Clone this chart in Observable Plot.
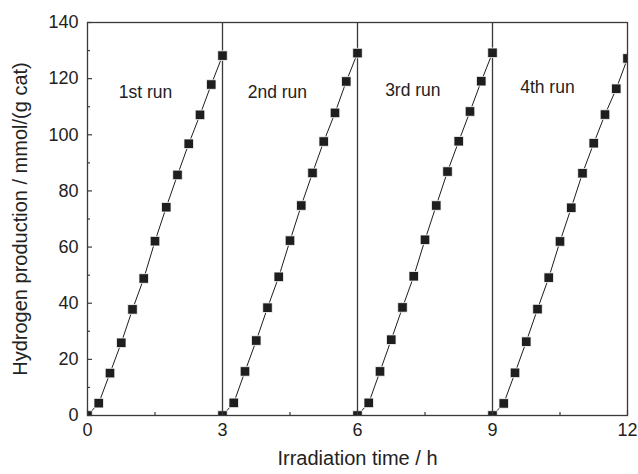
<!DOCTYPE html>
<html>
<head>
<meta charset="utf-8">
<script src="https://cdn.jsdelivr.net/npm/d3@7"></script>
<script src="https://cdn.jsdelivr.net/npm/@observablehq/plot@0.6"></script>
<style>
  html, body { margin: 0; padding: 0; background: #fff; }
  #chart { width: 638px; height: 474px; }
</style>
</head>
<body>
<div id="chart"></div>
<script>
// ---- data ----
const runStarts = [0, 3, 6, 9];
const elapsed = [0, 0.25, 0.5, 0.75, 1, 1.25, 1.5, 1.75, 2, 2.25, 2.5, 2.75, 3];
const run1 = [0, 4.4, 15.1, 25.9, 37.8, 48.8, 62.1, 74.2, 85.7, 96.8, 107.1, 117.9, 128.2];
const run2 = [0, 4.5, 15.7, 26.7, 38.4, 49.4, 62.3, 74.8, 86.4, 97.6, 107.8, 119.0, 129.1];
const run3 = [0, 4.5, 15.7, 27.0, 38.5, 49.6, 62.6, 74.8, 86.9, 97.7, 108.3, 119.1, 129.2];
const run4 = [0, 4.3, 15.2, 26.3, 37.9, 49.1, 62.0, 74.0, 86.3, 97.0, 107.2, 116.4, 127.2];
const runLabels = ["1st run", "2nd run", "3rd run", "4th run"];
const runLabelX = [1.29, 4.22, 7.23, 10.22];
const runLabelY = [115, 115, 115.8, 117];
const dividers = [3, 6, 9];
const xMajor = [0, 3, 6, 9, 12];
const xMinor = [1.5, 4.5, 7.5, 10.5];
const yMajor = [0, 20, 40, 60, 80, 100, 120, 140];
const yMinor = [10, 30, 50, 70, 90, 110, 130];
const xTitle = "Irradiation time / h";
const yTitle = "Hydrogen production / mmol/(g cat)";

// ---- build table ----
const runs = [run1, run2, run3, run4];
const points = runs.flatMap((vals, r) =>
  vals.map((v, i) => ({run: r, x: runStarts[r] + elapsed[i], y: v})));
const labels = runLabels.map((t, i) => ({t, x: runLabelX[i], y: runLabelY[i]}));

const ink = "#1e1e1e";
const axisInk = "#3a3a3a";
const font = "Liberation Sans, Arial, Helvetica, sans-serif";

const chart = Plot.plot({
  width: 638,
  height: 474,
  marginLeft: 87,
  marginRight: 11,
  marginTop: 22,
  marginBottom: 59,
  style: {fontFamily: font, fontSize: "18px", color: "#222", background: "#fff"},
  x: {domain: [0, 12], ticks: xMajor, tickSize: 0, tickPadding: 8, label: null},
  y: {domain: [0, 140], ticks: yMajor, tickSize: 0, tickPadding: 9, label: null},
  marks: [
    Plot.ruleX(dividers, {stroke: axisInk, strokeWidth: 1.3}),
    Plot.line(points, {x: "x", y: "y", z: "run", stroke: ink, strokeWidth: 1}),
    Plot.dot(points, {x: "x", y: "y", symbol: "square", r: 5.4, fill: ink, stroke: "#fff", strokeWidth: 0.8, clip: true}),
    Plot.text(labels, {x: "x", y: "y", text: "t", fontSize: 17.5, fill: "#222"}),
    // inward ticks
    Plot.ruleX(xMajor, {y1: 0, y2: 0, insetTop: -5, stroke: axisInk, strokeWidth: 1.2}),
    Plot.ruleX(xMinor, {y1: 0, y2: 0, insetTop: -3, stroke: axisInk, strokeWidth: 1.2}),
    Plot.ruleY(yMajor, {x1: 0, x2: 0, insetRight: -5, stroke: axisInk, strokeWidth: 1.2}),
    Plot.ruleY(yMinor, {x1: 0, x2: 0, insetRight: -3, stroke: axisInk, strokeWidth: 1.2}),
    Plot.frame({stroke: axisInk, strokeWidth: 1.3}),
    Plot.text([xTitle], {frameAnchor: "bottom", dy: 49, fontSize: 20, fill: "#222"}),
    Plot.text([yTitle], {frameAnchor: "left", textAnchor: "middle", dx: -67, rotate: -90, fontSize: 20, fill: "#222"})
  ]
});
document.getElementById("chart").appendChild(chart);
</script>
</body>
</html>
